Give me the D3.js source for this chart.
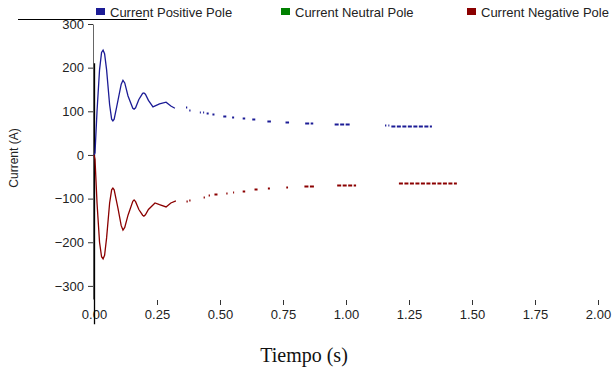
<!DOCTYPE html>
<html>
<head>
<meta charset="utf-8">
<script src="https://cdn.jsdelivr.net/npm/d3@7"></script>
<style>
  body { margin: 0; background: #fff; }
  svg { display: block; font-family: Arial, "Liberation Sans", sans-serif; }
</style>
</head>
<body>
<svg id="chart" width="613" height="368"></svg>
<script>
// Series names and colours
const seriesNames = ['Current Positive Pole', 'Current Neutral Pole', 'Current Negative Pole'];
const seriesColors = ['#1c1c96', '#008000', '#8b0000'];

// Axis ticks
const xTicks = [0, 0.25, 0.5, 0.75, 1.0, 1.25, 1.5, 1.75, 2.0];
const yTicks = [-300, -200, -100, 0, 100, 200, 300];

// Positive pole: continuous oscillation part [t, A]
const positiveWave = [
  [0, 0], [0.004, 5], [0.012, 100], [0.022, 195], [0.03, 235], [0.036, 240], [0.042, 232],
  [0.05, 195], [0.062, 115], [0.07, 82], [0.075, 78], [0.08, 82], [0.09, 110],
  [0.108, 162], [0.115, 171], [0.122, 165], [0.135, 135], [0.154, 107], [0.159, 105],
  [0.165, 108], [0.178, 127], [0.193, 141], [0.198, 142], [0.204, 139], [0.216, 125],
  [0.234, 110], [0.26, 117], [0.286, 121], [0.305, 112], [0.321, 107]
];
// Positive pole: sparse tail pieces [tStart, tEnd, A]
const positiveTail = [
  [0.365, 0.37, 109], [0.378, 0.383, 104], [0.42, 0.424, 99], [0.433, 0.437, 99],
  [0.447, 0.455, 96], [0.47, 0.478, 94], [0.513, 0.525, 90], [0.548, 0.556, 87],
  [0.59, 0.6, 84], [0.628, 0.64, 82], [0.688, 0.702, 78], [0.76, 0.774, 75],
  [0.838, 0.87, 73], [0.955, 1.02, 71], [1.155, 1.16, 68], [1.168, 1.172, 68],
  [1.18, 1.341, 67]
];

// Negative pole
const negativeWave = [
  [0, 0], [0.004, -10], [0.012, -110], [0.022, -200], [0.03, -233], [0.036, -238], [0.042, -230],
  [0.05, -190], [0.062, -110], [0.07, -80], [0.075, -76], [0.08, -80], [0.095, -122],
  [0.108, -162], [0.115, -172], [0.122, -166], [0.135, -138], [0.154, -106], [0.159, -103],
  [0.165, -107], [0.178, -125], [0.193, -138], [0.198, -140], [0.204, -137], [0.216, -125],
  [0.242, -110], [0.26, -114], [0.286, -119], [0.305, -110], [0.325, -105]
];
const negativeTail = [
  [0.367, 0.372, -105], [0.378, 0.383, -103], [0.435, 0.44, -96], [0.455, 0.46, -91],
  [0.478, 0.49, -89], [0.525, 0.53, -87], [0.552, 0.556, -85], [0.59, 0.6, -82],
  [0.637, 0.649, -78], [0.69, 0.698, -76], [0.763, 0.77, -73], [0.835, 0.877, -71],
  [0.965, 1.04, -68], [1.21, 1.44, -65]
];

// Vertical black trace at t = 0 [t, A]
const zeroTrace = [[0, 210], [0, -388]];

const svg = d3.select('#chart');

const x = d3.scaleLinear().domain([0, 2]).range([94, 598]);
const y = d3.scaleLinear().domain([-330, 300]).range([299, 24]);

// Stray line at top left
svg.append('line')
  .attr('x1', 18).attr('x2', 147)
  .attr('y1', 19.5).attr('y2', 19.5)
  .attr('stroke', '#000').attr('stroke-width', 1);

// Y axis
const yAxis = svg.append('g')
  .attr('transform', `translate(${x(0) - 1},0)`)
  .call(d3.axisLeft(y).tickValues(yTicks).tickSize(5).tickSizeOuter(0).tickPadding(4));
yAxis.select('.domain').attr('stroke', '#666');
yAxis.selectAll('.tick line').attr('stroke', '#333');
yAxis.selectAll('text').attr('font-size', 13).attr('fill', '#222')
  .attr('font-family', 'Arial, "Liberation Sans", sans-serif');

// X axis (ticks only)
const xAxis = svg.append('g')
  .attr('transform', 'translate(0,300)')
  .call(d3.axisBottom(x).tickValues(xTicks).tickFormat(d3.format('.2f')).tickSize(5).tickSizeOuter(0).tickPadding(5));
xAxis.select('.domain').remove();
xAxis.selectAll('.tick line').attr('stroke', '#333');
xAxis.selectAll('text').attr('font-size', 13).attr('fill', '#222')
  .attr('font-family', 'Arial, "Liberation Sans", sans-serif');

// Vertical black trace
svg.append('line')
  .attr('x1', x(zeroTrace[0][0]) + 0.5).attr('x2', x(zeroTrace[1][0]) + 0.5)
  .attr('y1', y(zeroTrace[0][1])).attr('y2', y(zeroTrace[1][1]))
  .attr('stroke', '#000').attr('stroke-width', 1.3);

const line = d3.line()
  .x(d => x(d[0]))
  .y(d => y(d[1]));

function drawSeries(wave, tail, color) {
  svg.append('path')
    .datum(wave)
    .attr('fill', 'none')
    .attr('stroke', color)
    .attr('stroke-width', 1.3)
    .attr('d', line);

  svg.append('g')
    .selectAll('line')
    .data(tail)
    .join('line')
    .attr('x1', d => x(d[0]))
    .attr('x2', d => x(d[1]))
    .attr('y1', d => Math.round(y(d[2])) + 0.5)
    .attr('y2', d => Math.round(y(d[2])) + 0.5)
    .attr('stroke', color)
    .attr('stroke-width', 2)
    .attr('stroke-dasharray', d => (x(d[1]) - x(d[0]) > 8 ? '4,1.5' : null));
}

drawSeries(positiveWave, positiveTail, seriesColors[0]);
drawSeries(negativeWave, negativeTail, seriesColors[2]);

// Legend
const legendX = [96, 281, 467];
const legend = svg.append('g')
  .selectAll('g')
  .data(seriesNames)
  .join('g')
  .attr('transform', (d, i) => `translate(${legendX[i]},0)`);

legend.append('rect')
  .attr('x', 0).attr('y', 8)
  .attr('width', 9).attr('height', 7)
  .attr('fill', (d, i) => seriesColors[i]);

legend.append('text')
  .attr('x', 14).attr('y', 17)
  .attr('font-size', 13)
  .attr('fill', '#222')
  .text(d => d);

// Axis titles
svg.append('text')
  .attr('transform', 'translate(18,158) rotate(-90)')
  .attr('text-anchor', 'middle')
  .attr('font-size', 12)
  .attr('fill', '#222')
  .text('Current (A)');

svg.append('text')
  .attr('x', 304).attr('y', 362)
  .attr('text-anchor', 'middle')
  .attr('font-family', '"Liberation Serif", "Times New Roman", serif')
  .attr('font-size', 20)
  .attr('fill', '#111')
  .text('Tiempo (s)');
</script>
</body>
</html>
